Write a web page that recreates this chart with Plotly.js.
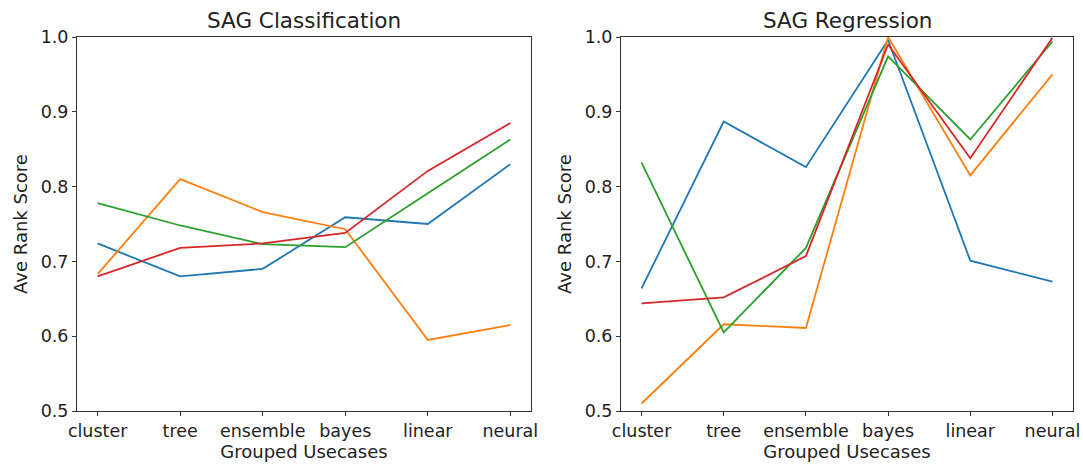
<!DOCTYPE html>
<html>
<head>
<meta charset="utf-8">
<script src="https://cdn.plot.ly/plotly-3.0.1.min.js"></script>
<style>html,body{margin:0;padding:0;background:#fff;}#chart{width:1083px;height:466px;}</style>
</head>
<body>
<div id="chart"></div>
<script>
const categories = ["cluster", "tree", "ensemble", "bayes", "linear", "neural"];
const yTicks = [0.5, 0.6, 0.7, 0.8, 0.9, 1.0];
const yTickLabels = ["0.5", "0.6", "0.7", "0.8", "0.9", "1.0"];

// SAG Classification
const clsBlue   = [0.724, 0.680, 0.690, 0.759, 0.750, 0.830];
const clsOrange = [0.683, 0.810, 0.766, 0.743, 0.595, 0.615];
const clsGreen  = [0.778, 0.748, 0.723, 0.719, 0.791, 0.863];
const clsRed    = [0.680, 0.718, 0.724, 0.738, 0.821, 0.885];

// SAG Regression
const regBlue   = [0.664, 0.887, 0.826, 0.996, 0.701, 0.673];
const regOrange = [0.510, 0.616, 0.611, 1.000, 0.815, 0.950];
const regGreen  = [0.832, 0.605, 0.718, 0.974, 0.863, 0.994];
const regRed    = [0.644, 0.652, 0.707, 0.990, 0.838, 0.999];

const colors = ["#1f77b4", "#ff7f0e", "#2ca02c", "#d62728"];
const xIdx = categories.map((c, i) => i);

function mk(y, color, xa, ya) {
  return {x: xIdx, y: y, type: "scatter", mode: "lines",
          line: {color: color, width: 1.8}, xaxis: xa, yaxis: ya,
          showlegend: false, hoverinfo: "skip"};
}

const data = [
  mk(clsBlue, colors[0], "x", "y"),
  mk(clsOrange, colors[1], "x", "y"),
  mk(clsGreen, colors[2], "x", "y"),
  mk(clsRed, colors[3], "x", "y"),
  mk(regBlue, colors[0], "x2", "y2"),
  mk(regOrange, colors[1], "x2", "y2"),
  mk(regGreen, colors[2], "x2", "y2"),
  mk(regRed, colors[3], "x2", "y2")
];

const tickFont = {family: "DejaVu Sans, sans-serif", size: 17.5, color: "#222"};
const labFont = {family: "DejaVu Sans, sans-serif", size: 18, color: "#222"};
const titleFont = {family: "DejaVu Sans, sans-serif", size: 21.5, color: "#222"};

function xaxis(domain, anchor) {
  return {domain: domain, anchor: anchor, range: [-0.25, 5.25],
          tickmode: "array", tickvals: xIdx, ticktext: categories,
          showline: true, mirror: true, linecolor: "#333", linewidth: 1,
          ticks: "outside", ticklen: 4, tickcolor: "#333", showgrid: false, zeroline: false,
          tickfont: tickFont,
          title: {text: "Grouped Usecases", font: labFont, standoff: 5}};
}
function yaxis(anchor) {
  return {domain: [0, 1], anchor: anchor, range: [0.5, 1.0],
          tickmode: "array", tickvals: yTicks, ticktext: yTickLabels,
          showline: true, mirror: true, linecolor: "#333", linewidth: 1,
          ticks: "outside", ticklen: 4, tickcolor: "#333", showgrid: false, zeroline: false,
          tickfont: tickFont,
          title: {text: "Ave Rank Score", font: labFont, standoff: 8}};
}

const layout = {
  width: 1083, height: 466,
  margin: {l: 77, r: 10, t: 37, b: 55},
  paper_bgcolor: "#fff", plot_bgcolor: "#fff",
  font: tickFont,
  xaxis: xaxis([0, 0.4558], "y"),
  yaxis: yaxis("x"),
  xaxis2: xaxis([0.5462, 1], "y2"),
  yaxis2: yaxis("x2"),
  annotations: [
    {text: "SAG Classification", xref: "x domain", yref: "paper", x: 0.5, y: 1,
     xanchor: "center", yanchor: "bottom", yshift: 2, showarrow: false, font: titleFont},
    {text: "SAG Regression", xref: "x2 domain", yref: "paper", x: 0.5, y: 1,
     xanchor: "center", yanchor: "bottom", yshift: 2, showarrow: false, font: titleFont}
  ]
};

Plotly.newPlot("chart", data, layout, {staticPlot: true, displayModeBar: false});
</script>
</body>
</html>
